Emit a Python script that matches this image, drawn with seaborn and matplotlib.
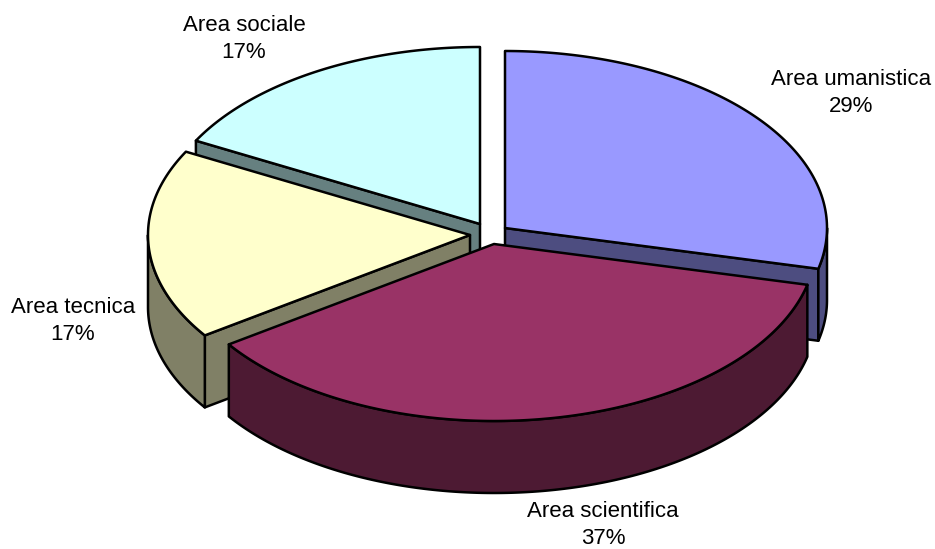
import numpy as np
import matplotlib
matplotlib.use("Agg")
import matplotlib.pyplot as plt
import seaborn as sns

labels = ["Area umanistica", "Area scientifica", "Area tecnica", "Area sociale"]
values = [28.7, 36.7, 17.4, 17.2]
top_colors = ["#9999FF", "#993366", "#FFFFCC", "#CCFFFF"]

# layout of the exploded 3D pie, in pixels
apexes = [(505, 228), (494, 244), (470, 235), (480, 224)]
label_centers = [(851, 93), (603, 525), (73, 321), (244, 39)]
RX, RY, DEPTH = 322, 177, 72
draw_order = [3, 0, 2, 1]

sns.set_theme(style="white")
plt.rcParams["font.family"] = ["Liberation Sans", "DejaVu Sans"]
fig = plt.figure(figsize=(9.35, 5.49), dpi=100, facecolor="white")
ax = fig.add_axes([0, 0, 1, 1])
ax.set_xlim(0, 935)
ax.set_ylim(549, 0)
ax.axis("off")

sweeps = np.array(values) / sum(values) * 360
ends = 90 - np.cumsum(sweeps)
starts = ends + sweeps
shades = [tuple(0.5 * v for v in matplotlib.colors.to_rgb(c)) for c in top_colors]
style = dict(edgecolor="black", linewidth=1.8, joinstyle="round")


def arc(cx, cy, a0, a1, dy=0):
    t = np.radians(np.linspace(a0, a1, max(int(abs(a1 - a0)) * 2, 2)))
    return np.column_stack([cx + RX * np.cos(t), cy - RY * np.sin(t) + dy])


def poly(points, color):
    ax.fill(points[:, 0], points[:, 1], facecolor=color, **style)


for i in draw_order:
    cx, cy = apexes[i]
    a0, a1 = starts[i], ends[i]
    # a radial cut shows its wall when the slice lies behind it
    walls = []
    if np.sin(np.radians(a1)) < 0 and np.cos(np.radians(a1)) > 0:
        walls.append(a1)
    if np.cos(np.radians(a0)) < 0:
        walls.append(a0)
    for ang in walls:
        edge = arc(cx, cy, ang, ang)[0]
        poly(np.array([[cx, cy], edge, edge + [0, DEPTH], [cx, cy + DEPTH]]), shades[i])
    # outer rim wall: the part of the arc on the front half
    r0, r1 = max(a1, -180), min(a0, 0)
    if r1 > r0:
        poly(np.vstack([arc(cx, cy, r1, r0), arc(cx, cy, r0, r1, DEPTH)]), shades[i])
    poly(np.vstack([[[cx, cy]], arc(cx, cy, a0, a1)]), top_colors[i])

for label, value, (x, y) in zip(labels, values, label_centers):
    ax.text(x, y, f"{label}\n{value:.0f}%", ha="center", va="center",
            fontsize=16, color="black", linespacing=1.43)

fig.savefig("out.png", dpi=100, facecolor="white")
